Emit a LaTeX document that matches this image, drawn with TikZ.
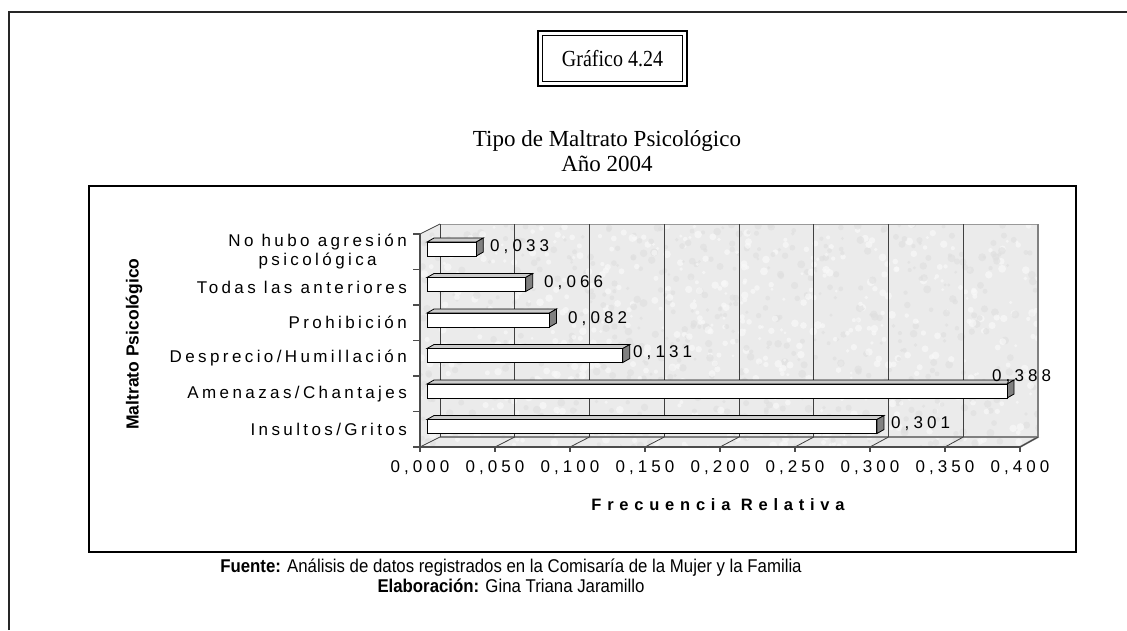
\documentclass[tikz,border=0pt]{standalone}
\usepackage{fontspec}
\setmainfont{Liberation Serif}
\newfontfamily\arial{Liberation Sans}
\newfontfamily\arialsp[LetterSpace=20]{Liberation Sans}
\newfontfamily\arialspw[LetterSpace=24]{Liberation Sans}
\newfontfamily\arialbsp[LetterSpace=35]{Liberation Sans Bold}
\begin{document}
\begin{tikzpicture}[x=1pt,y=-1pt,
  outerframe/.style={draw=black!85,line width=1.6pt},
  chartbox/.style={draw=black,line width=1.2pt},
  wallfill/.style={fill=black!8},
  gridline/.style={draw=black!75,line width=0.8pt},
  walledge/.style={draw=black!50,line width=1.8pt},
  axisline/.style={draw=black!70,line width=1.2pt},
  barfront/.style={fill=white,draw=black,line width=1pt},
  bartop/.style={fill=black!20,draw=black,line width=0.8pt},
  barside/.style={fill=black!50,draw=black,line width=0.8pt},
  catlab/.style={font=\arialsp\fontsize{17}{19}\selectfont,anchor=east,align=center,inner sep=0pt},
  vallab/.style={font=\arialspw\fontsize{17}{19}\selectfont,anchor=west,inner sep=0pt},
  ticklab/.style={font=\arialspw\fontsize{17}{19}\selectfont,anchor=center,inner sep=0pt},
  serif/.style={font=\fontsize{23}{25}\selectfont,align=center,inner sep=0pt},
  srcline/.style={font=\arial\fontsize{16.8}{19}\selectfont,inner sep=0pt}
]
\useasboundingbox (0,0) rectangle (1127,630);
\fill[white] (0,0) rectangle (1127,630);

% outer frame (cut at right and bottom)
\draw[outerframe] (9,630) -- (9,12) -- (1127,12);

% title box
\draw[line width=1.5pt] (538,31) rectangle (687,86);
\draw[line width=1.3pt] (542.5,35.5) rectangle (682.5,81.5);
\node[inner sep=0pt,font=\fontsize{20}{22}\selectfont] (gra) at (612.5,58.5) {\scalebox{1}[1.15]{Gráfico 4.24}};

\node[serif] (tit) at (607,151) {Tipo de Maltrato Psicológico\\Año 2004};

% chart box
\draw[chartbox] (89,186) rectangle (1076,552);

% walls and floor
\fill[wallfill] (440,224) rectangle (1038,437);
\fill[wallfill] (420,234) -- (440,224) -- (440,437) -- (420,447) -- cycle;
\fill[wallfill] (420,447) -- (440,437) -- (1040,437) -- (1020,447) -- cycle;
% soft marbled texture
\pgfmathsetseed{7}
\begin{scope}
  \clip (420,234) -- (440,224) -- (1038,224) -- (1038,437) -- (1020,447) -- (420,447) -- cycle;
  \foreach \i in {1,...,1200} {
    \pgfmathsetmacro{\px}{420+rnd*620}
    \pgfmathsetmacro{\py}{224+rnd*223}
    \pgfmathsetmacro{\sh}{ifthenelse(rnd>0.5,2,13)}
    \pgfmathsetmacro{\rr}{1.5+rnd*2.5}
    \fill[black!\sh,opacity=0.6] (\px,\py) circle[radius=\rr];
  }
\end{scope}
\draw[draw=black!40,line width=0.6pt] (440,224) -- (1038,224);
\draw[walledge] (440,437) -- (1038,437);
\draw[walledge] (1038,224) -- (1038,437) -- (1020,447);

% gridlines on back wall and floor
\foreach \k in {0,...,7} {
  \draw[gridline] (440+74.75*\k,224) -- (440+74.75*\k,437);
}
\foreach \k in {0,...,8} {
  \draw[gridline] (420+75*\k,447) -- (440+74.75*\k,437);
  \draw[axisline] (420+75*\k,447) -- (420+75*\k,452);
}
\draw[gridline] (420,234) -- (440,224);

% axes
\draw[axisline] (420,234) -- (420,447) -- (1020,447);
\foreach \k in {0,...,6} {
  \draw[axisline] (413,234+35.5*\k) -- (420,234+35.5*\k);
}

% bars
\foreach \v [count=\k from 0] in {0.033,0.066,0.082,0.131,0.388,0.301} {
  \pgfmathsetmacro{\xa}{427+1495*\v}
  \pgfmathsetmacro{\ya}{242+35.5*\k}
  \pgfmathsetmacro{\yb}{\ya+14}
  \filldraw[bartop] (427,\ya) -- (434,\ya-4) -- (\xa+7,\ya-4) -- (\xa,\ya) -- cycle;
  \filldraw[barside] (\xa,\ya) -- (\xa+7,\ya-4) -- (\xa+7,\yb-4) -- (\xa,\yb) -- cycle;
  \filldraw[barfront] (427,\ya) rectangle (\xa,\yb);
}

% value labels
\node[vallab] (v1) at (490,247) {0,033};
\node[vallab] (v2) at (544,283) {0,066};
\node[vallab] (v3) at (568,319) {0,082};
\node[vallab] (v4) at (633,353) {0,131};
\node[vallab] (v5) at (992,377) {0,388};
\node[vallab] (v6) at (891,424) {0,301};

% category labels
\node[catlab] (c1) at (407,251.75) {No hubo agresión\\psicológica};
\node[catlab] (c2) at (407,287.25) {Todas las anteriores};
\node[catlab] (c3) at (407,322.75) {Prohibición};
\node[catlab] (c4) at (407,358.25) {Desprecio/Humillación};
\node[catlab] (c5) at (407,393.75) {Amenazas/Chantajes};
\node[catlab] (c6) at (407,429.25) {Insultos/Gritos};

% tick labels
\node[ticklab] (t0) at (420,468) {0,000};
\node[ticklab] (t1) at (495,468) {0,050};
\node[ticklab] (t2) at (570,468) {0,100};
\node[ticklab] (t3) at (645,468) {0,150};
\node[ticklab] (t4) at (720,468) {0,200};
\node[ticklab] (t5) at (795,468) {0,250};
\node[ticklab] (t6) at (870,468) {0,300};
\node[ticklab] (t7) at (945,468) {0,350};
\node[ticklab] (t8) at (1020,468) {0,400};

% axis titles
\node[font=\arialbsp\fontsize{16.5}{18}\selectfont,inner sep=0pt] (xt) at (718,505) {Frecuencia Relativa};
\node[font=\arial\bfseries\fontsize{17.5}{19}\selectfont,rotate=90,inner sep=0pt] (yt) at (134,344) {Maltrato Psicológico};

% source lines
\node[srcline] (src) at (511,568) {\scalebox{1}[1.1]{\textbf{Fuente:} Análisis de datos registrados en la Comisaría de la Mujer y la Familia}};
\node[srcline] (ela) at (511,586) {\scalebox{1}[1.1]{\textbf{Elaboración:} Gina Triana Jaramillo}};
\end{tikzpicture}
\end{document}
